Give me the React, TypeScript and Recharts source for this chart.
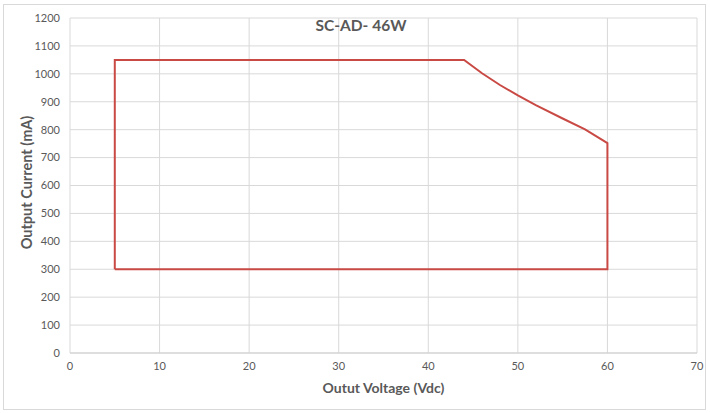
import React from "react";
import { LineChart, Line, XAxis, YAxis, CartesianGrid, Label } from "recharts";

const voltages = [5, 5, 44, 46, 48, 50, 52, 55, 57.5, 60, 60, 5];
const currents = [300, 1050, 1050, 1002, 960, 923, 888, 840, 801, 752, 300, 300];
const xTicks = [0, 10, 20, 30, 40, 50, 60, 70];
const yTicks = [0, 100, 200, 300, 400, 500, 600, 700, 800, 900, 1000, 1100, 1200];
const title = "SC-AD- 46W";
const xTitle = "Outut Voltage (Vdc)";
const yTitle = "Output Current (mA)";

const data = voltages.map((v, i) => ({ v, i: currents[i] }));

const FONT = "Lato, 'Open Sans', sans-serif";
const GRAY = "#595959";

export default function App() {
  return (
    <div style={{ position: "absolute", left: 0, top: 0, width: 710, height: 413, background: "#fff", fontFamily: FONT }}>
      <div style={{ position: "absolute", left: 3, top: 4, width: 703, height: 406, border: "1px solid #d9d9d9", boxSizing: "border-box" }} />
      <LineChart width={710} height={413} data={data} margin={{ top: 18, right: 13, bottom: 0, left: 0 }}>
        <CartesianGrid stroke="#d9d9d9" strokeWidth={1} />
        <XAxis
          type="number"
          dataKey="v"
          domain={[0, 70]}
          ticks={xTicks}
          height={60}
          tickSize={0}
          tickMargin={9}
          axisLine={{ stroke: "#d0d0d0" }}
          tick={{ fill: GRAY, fontSize: 11, fontFamily: FONT }}
        >
          <Label value={xTitle} position="center" dy={5} style={{ fill: GRAY, fontSize: 14, fontWeight: 700, fontFamily: FONT }} />
        </XAxis>
        <YAxis
          type="number"
          domain={[0, 1200]}
          ticks={yTicks}
          width={70}
          tickSize={0}
          tickMargin={10}
          axisLine={false}
          tick={{ fill: GRAY, fontSize: 11, fontFamily: FONT }}
        >
          <Label value={yTitle} position="center" angle={-90} dx={-8} dy={-3} style={{ fill: GRAY, fontSize: 14.5, fontWeight: 700, fontFamily: FONT, textAnchor: "middle" }} />
        </YAxis>
        <Line type="linear" dataKey="i" stroke="#c94a45" strokeWidth={2} dot={false} isAnimationActive={false} />
      </LineChart>
      <div style={{ position: "absolute", left: 6, width: 710, top: 16, textAlign: "center", fontSize: 15.5, fontWeight: 700, color: GRAY, fontFamily: FONT }}>
        {title}
      </div>
    </div>
  );
}
